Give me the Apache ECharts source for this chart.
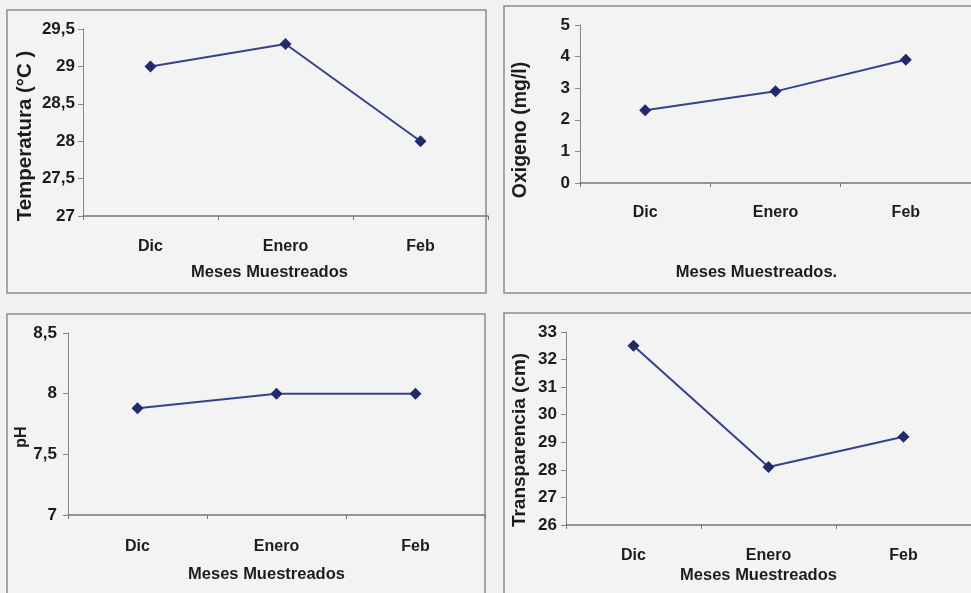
<!DOCTYPE html>
<html>
<head>
<meta charset="utf-8">
<script src="https://cdn.jsdelivr.net/npm/echarts@6/dist/echarts.min.js"></script>
<style>
  html, body { margin: 0; padding: 0; background: #f1f1f1; }
  #chart { width: 971px; height: 593px; }
</style>
</head>
<body>
<div id="chart"></div>
<script>
// meses muestreados
const meses = ["Dic", "Enero", "Feb"];

// valores por parámetro
const temperatura = [29.0, 29.3, 28.0];
const oxigeno = [2.3, 2.9, 3.9];
const ph = [7.88, 8.0, 8.0];
const transparencia = [32.5, 28.1, 29.2];

const FONT = "Liberation Sans, Arial, sans-serif";
const TXT = "#1c1c1c";

// cajas de cada gráfico (solo decoración)
const boxes = [
    { x: 7, y: 10, w: 479, h: 283 },
    { x: 504, y: 6, w: 480, h: 287 },
    { x: 7, y: 314, w: 478, h: 290 },
    { x: 504, y: 313, w: 480, h: 290 },
];

const panels = [
    { grid: { left: 83, top: 29, width: 405, height: 187 }, data: temperatura,
      yName: "Temperatura (°C )", min: 27, max: 29.5, interval: 0.5,
      yGap: 47, yPad: [0, 27, 0, 0], yFont: 20.5, yMargin: 8,
      xMargin: 23, xGap: 48, xPad: [0, 32, 0, 0] },
    { grid: { left: 580, top: 25, width: 405, height: 158 }, data: oxigeno,
      yName: "Oxigeno (mg/l)", min: 0, max: 5, interval: 1,
      yGap: 49, yPad: [0, 52, 0, 0], yFont: 19.5, yMargin: 10,
      xMargin: 22, xGap: 81, xPad: [0, 38, 0, 0], xNameSuffix: "." },
    { grid: { left: 68, top: 333, width: 417, height: 182 }, data: ph,
      yName: "pH", min: 7, max: 8.5, interval: 0.5,
      yGap: 38, yPad: [0, 26, 0, 0], yFont: 16, yMargin: 11,
      xMargin: 24, xGap: 51, xPad: [0, 20, 0, 0] },
    { grid: { left: 566, top: 332, width: 415, height: 193 }, data: transparencia,
      yName: "Transparencia (cm)", min: 26, max: 33, interval: 1,
      yGap: 37, yPad: [0, 23, 0, 0], yFont: 19, yMargin: 9,
      xMargin: 23, xGap: 42, xPad: [0, 20, 0, 0] },
];

const chart = echarts.init(document.getElementById("chart"));

chart.setOption({
    backgroundColor: "#f1f1f1",
    animation: false,
    textStyle: { fontFamily: FONT },
    graphic: boxes.map(b => ({
        type: "rect",
        shape: { x: b.x, y: b.y, width: b.w, height: b.h },
        style: { fill: "#f3f3f3", stroke: "#8c8c8c", lineWidth: 1.5 },
        z: -10,
    })),
    grid: panels.map(p => p.grid),
    xAxis: panels.map((p, i) => ({
        type: "category",
        gridIndex: i,
        data: meses,
        boundaryGap: true,
        name: "Meses Muestreados" + (p.xNameSuffix || ""),
        nameLocation: "middle",
        nameGap: p.xGap,
        nameTextStyle: { color: TXT, fontSize: 16.5, fontWeight: "bold", fontFamily: FONT, padding: p.xPad },
        axisLine: { lineStyle: { color: "#777", width: 1.5 } },
        axisTick: { show: true, length: 4, inside: false, lineStyle: { color: "#777" } },
        axisLabel: { color: TXT, fontSize: 16, fontWeight: "bold", margin: p.xMargin, fontFamily: FONT },
        splitLine: { show: false },
    })),
    yAxis: panels.map((p, i) => ({
        type: "value",
        gridIndex: i,
        min: p.min,
        max: p.max,
        interval: p.interval,
        name: p.yName,
        nameLocation: "middle",
        nameRotate: 90,
        nameGap: p.yGap,
        nameTextStyle: { color: TXT, fontSize: p.yFont, fontWeight: "bold", fontFamily: FONT, padding: p.yPad },
        axisLine: { show: true, lineStyle: { color: "#888", width: 1 } },
        axisTick: { show: true, length: 5, lineStyle: { color: "#888" } },
        axisLabel: {
            color: TXT, fontSize: 17, fontWeight: "bold", margin: p.yMargin, fontFamily: FONT,
            formatter: v => String(v).replace(".", ","),
        },
        splitLine: { show: false },
    })),
    series: panels.map((p, i) => ({
        type: "line",
        xAxisIndex: i,
        yAxisIndex: i,
        data: p.data,
        symbol: "diamond",
        symbolSize: 12,
        lineStyle: { color: "#36428c", width: 2 },
        itemStyle: { color: "#1f2b6b" },
    })),
});
</script>
</body>
</html>
